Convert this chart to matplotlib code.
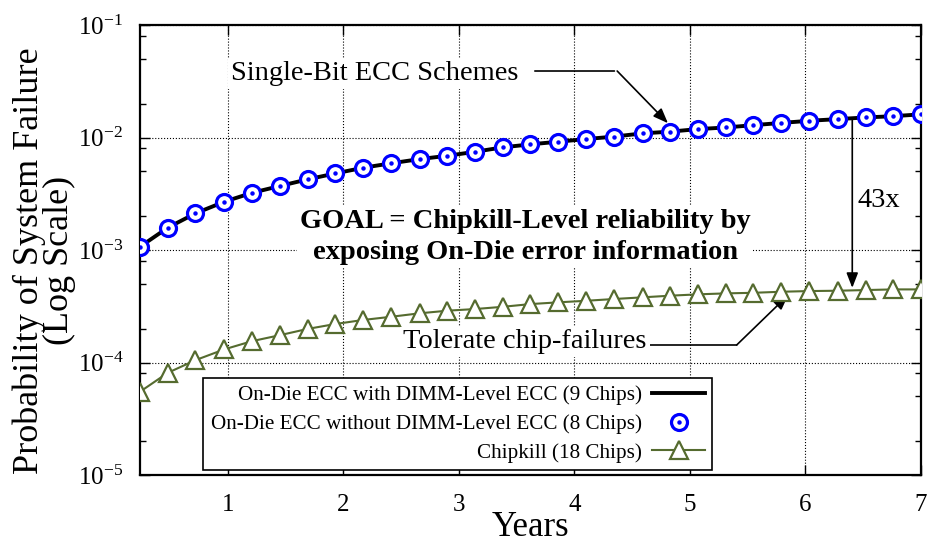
import numpy as np
import matplotlib
matplotlib.use("Agg")
import matplotlib.pyplot as plt
from matplotlib.ticker import LogLocator, NullFormatter, FixedLocator
from matplotlib.legend_handler import HandlerTuple

plt.rcParams['font.family'] = ['Liberation Serif', 'DejaVu Serif']
plt.rcParams['mathtext.fontset'] = 'custom'
plt.rcParams['mathtext.rm'] = 'Liberation Serif'
plt.rcParams['axes.unicode_minus'] = False

# data
years = [0.24, 0.48, 0.72, 0.97, 1.21, 1.45, 1.69, 1.93, 2.17, 2.41,
         2.66, 2.90, 3.14, 3.38, 3.62, 3.86, 4.10, 4.34, 4.59, 4.83,
         5.07, 5.31, 5.55, 5.79, 6.03, 6.28, 6.52, 6.76, 7.00]

on_die_dimm_ecc = [1.07e-3, 1.58e-3, 2.12e-3, 2.69e-3, 3.23e-3, 3.71e-3, 4.25e-3, 4.80e-3,
                   5.39e-3, 5.90e-3, 6.44e-3, 6.89e-3, 7.48e-3, 8.19e-3, 8.71e-3, 9.19e-3,
                   9.70e-3, 1.02e-2, 1.09e-2, 1.13e-2, 1.19e-2, 1.23e-2, 1.29e-2, 1.35e-2,
                   1.41e-2, 1.46e-2, 1.51e-2, 1.55e-2, 1.61e-2]

on_die_no_dimm_ecc = [1.07e-3, 1.58e-3, 2.12e-3, 2.69e-3, 3.23e-3, 3.71e-3, 4.25e-3, 4.80e-3,
                      5.39e-3, 5.90e-3, 6.44e-3, 6.89e-3, 7.48e-3, 8.19e-3, 8.71e-3, 9.19e-3,
                      9.70e-3, 1.02e-2, 1.09e-2, 1.13e-2, 1.19e-2, 1.23e-2, 1.29e-2, 1.35e-2,
                      1.41e-2, 1.46e-2, 1.51e-2, 1.55e-2, 1.61e-2]

chipkill = [5.5e-5, 8.1e-5, 1.05e-4, 1.31e-4, 1.55e-4, 1.75e-4, 1.99e-4, 2.20e-4,
            2.39e-4, 2.55e-4, 2.74e-4, 2.89e-4, 2.99e-4, 3.13e-4, 3.31e-4, 3.43e-4,
            3.54e-4, 3.67e-4, 3.80e-4, 3.93e-4, 4.04e-4, 4.12e-4, 4.17e-4, 4.26e-4,
            4.32e-4, 4.35e-4, 4.41e-4, 4.47e-4, 4.47e-4]

labels = ["On-Die ECC with DIMM-Level ECC (9 Chips)",
          "On-Die ECC without DIMM-Level ECC (8 Chips)",
          "Chipkill (18 Chips)"]

green = "#556b2f"
note_size = 20.5

fig = plt.figure(figsize=(9.32, 5.46), dpi=100)
ax = fig.add_axes([0.1502, 0.130, 0.838, 0.824])

ax.set_yscale('log')
ax.set_xlim(0.24, 7.0)
ax.set_ylim(1e-5, 1e-1)

l1, = ax.plot(years, on_die_dimm_ecc, color='black', lw=2.8, zorder=3)
c1, = ax.plot(years, on_die_no_dimm_ecc, ls='none', marker='o', ms=11.5, mew=2.3,
              mec='blue', mfc='white', zorder=4)
d1, = ax.plot(years, on_die_no_dimm_ecc, ls='none', marker='o', ms=2.2,
              color='blue', zorder=5)
k1, = ax.plot(years, chipkill, color=green, lw=1.5, marker='^', ms=12.5, mew=1.6,
              mec=green, mfc='white', zorder=4)

# axes styling
ax.xaxis.set_major_locator(FixedLocator([1, 2, 3, 4, 5, 6, 7]))
ax.yaxis.set_major_locator(LogLocator(base=10, numticks=10))
ax.yaxis.set_minor_locator(LogLocator(base=10, subs=[2, 5, 8], numticks=10))
ax.yaxis.set_minor_formatter(NullFormatter())
ax.tick_params(which='both', direction='in', top=True, right=True, labelsize=18)
ax.tick_params(axis='x', pad=14)
ax.tick_params(axis='y', pad=12)
ax.tick_params(which='major', length=7, width=1)
ax.tick_params(which='minor', length=4, width=1)
for s in ax.spines.values():
    s.set_linewidth(1.6)
ax.grid(True, which='major', ls=':', color='black', lw=0.8, zorder=0)

ax.set_xlabel("Years", fontsize=25, labelpad=-4)
ax.set_ylabel("Probability of System Failure\n(Log Scale)", fontsize=26,
              linespacing=0.89)
ax.yaxis.set_label_coords(-0.082, 0.476)

box = dict(facecolor='white', edgecolor='none', pad=2)
ax.text(0.300, 0.893, "Single-Bit ECC Schemes", transform=ax.transAxes,
        ha='center', va='center', fontsize=note_size, bbox=box, zorder=6)
ax.annotate('', xy=(0.611, 0.898), xytext=(0.502, 0.898), xycoords='axes fraction',
            arrowprops=dict(arrowstyle='-', color='black', lw=1.2))
ax.annotate('', xy=(0.676, 0.782), xytext=(0.611, 0.898), xycoords='axes fraction',
            arrowprops=dict(arrowstyle='-|>,head_length=0.9,head_width=0.35',
                            color='black', lw=1.2, shrinkA=0, shrinkB=0))

ax.text(0.493, 0.529, "GOAL = Chipkill-Level reliability by\nexposing On-Die error information",
        transform=ax.transAxes, ha='center', va='center', fontsize=note_size,
        fontweight='bold', linespacing=1.33, bbox=box, zorder=6)

ax.text(0.946, 0.611, "43x", transform=ax.transAxes, ha='center', va='center',
        fontsize=note_size, bbox=box, zorder=6)
ax.annotate('', xy=(0.912, 0.416), xytext=(0.912, 0.793), xycoords='axes fraction',
            arrowprops=dict(arrowstyle='-|>,head_length=0.9,head_width=0.35',
                            color='black', lw=1.2, shrinkA=0, shrinkB=0), zorder=6)

ax.text(0.493, 0.296, "Tolerate chip-failures", transform=ax.transAxes,
        ha='center', va='center', fontsize=note_size, bbox=box, zorder=6)
ax.annotate('', xy=(0.764, 0.289), xytext=(0.653, 0.289), xycoords='axes fraction',
            arrowprops=dict(arrowstyle='-', color='black', lw=1.2, shrinkA=0, shrinkB=0))
ax.annotate('', xy=(0.830, 0.400), xytext=(0.764, 0.289), xycoords='axes fraction',
            arrowprops=dict(arrowstyle='-|>,head_length=0.9,head_width=0.35',
                            color='black', lw=1.2, shrinkA=0, shrinkB=0))

leg = ax.legend([l1, (c1, d1), k1], labels, loc='lower left',
                bbox_to_anchor=(0.081, 0.011), borderaxespad=0, markerfirst=False,
                fontsize=15.2, frameon=True, fancybox=False, framealpha=1,
                edgecolor='black', handlelength=2.5, handletextpad=0.5,
                labelspacing=0.42, borderpad=0.35, numpoints=1,
                handler_map={tuple: HandlerTuple(ndivide=1)})
leg.get_frame().set_linewidth(1.2)
leg.set_zorder(7)

fig.savefig("out.png", dpi=100)
